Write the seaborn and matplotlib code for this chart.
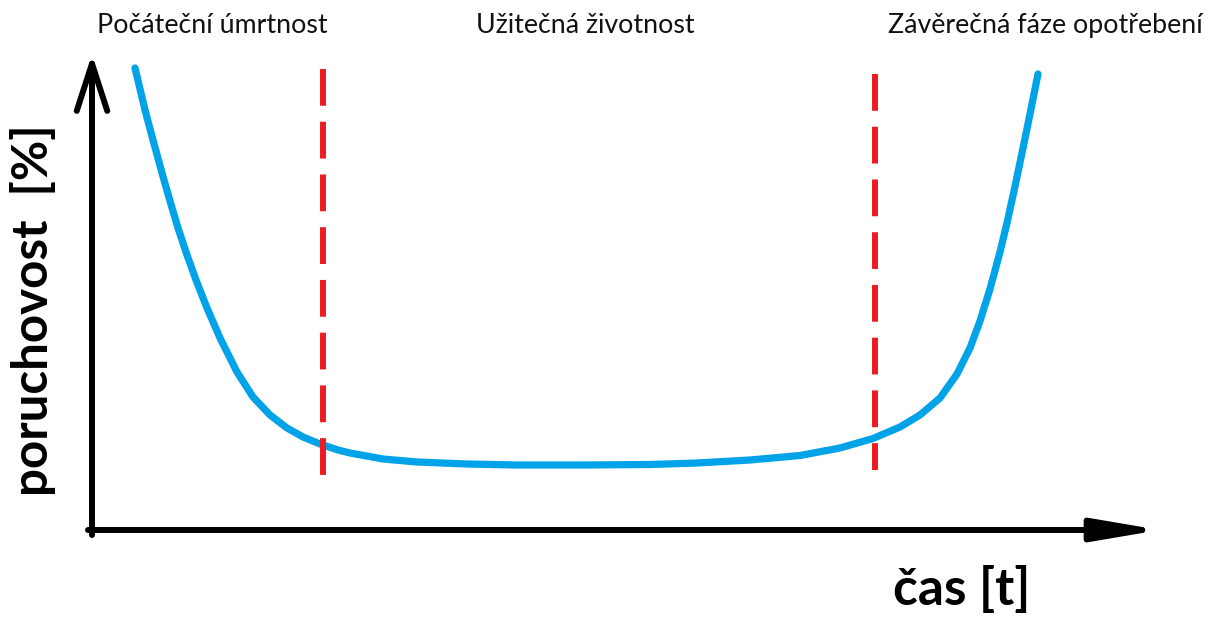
import matplotlib
matplotlib.use('Agg')
import matplotlib.pyplot as plt
import seaborn as sns
import pandas as pd

# bathtub curve (t from the axis corner, rate upwards)
t_vals = [43, 53, 61, 70, 78, 86, 95, 104, 115, 128, 145, 161, 178, 195, 211, 228,
          246, 258, 291, 325, 375, 425, 491, 558, 605, 658, 708, 748, 781, 808, 828,
          848, 865, 878, 888, 898, 908, 915, 922, 930, 938, 946]
rate_vals = [462, 420, 390, 357, 329, 302, 275, 250, 222, 192, 158, 133, 115, 102, 93, 86,
             80, 77, 71, 68, 66, 65, 65, 65.5, 67, 70, 74.5, 82, 91.5, 103, 115,
             132, 156, 182, 209, 241, 278, 307, 339, 377, 416, 456]

# phase boundaries (dashed red lines)
boundary_t = [231, 783]
boundary_top = [461, 456]
boundary_bottom = [48, 60]

phase_labels = ['Počáteční úmrtnost', 'Užitečná životnost', 'Závěrečná fáze opotřebení']
x_label = 'čas [t]'
y_label = 'poruchovost  [%]'

sns.set_theme(style='white')
plt.rcParams['font.family'] = ['Lato', 'DejaVu Sans']

fig = plt.figure(figsize=(12.05, 6.17), dpi=100)
ax = fig.add_axes([0, 0, 1, 1])
ax.set_xlim(-92, 1113)
ax.set_ylim(-87, 530)
ax.axis('off')

curve = pd.DataFrame({'t': t_vals, 'rate': rate_vals})
sns.lineplot(data=curve, x='t', y='rate', sort=False, estimator=None,
             color='#00a2e8', lw=5.2, solid_capstyle='round', solid_joinstyle='round', ax=ax)

for bt, top, bot in zip(boundary_t, boundary_top, boundary_bottom):
    sns.lineplot(x=[bt, bt], y=[top, bot], sort=False, estimator=None,
                 color='#ed1c24', lw=4.3, linestyle=(0, (6.16, 2.67)), ax=ax)

# axes drawn as arrows
ax.annotate('', xy=(0, 476), xytext=(0, -5),
            arrowprops=dict(arrowstyle='->,head_length=1.7,head_width=0.55', lw=4.3,
                            color='black', shrinkA=0, shrinkB=0, mutation_scale=20))
ax.annotate('', xy=(1068, 0), xytext=(-4, 0),
            arrowprops=dict(arrowstyle='-|>,head_length=2.0,head_width=0.34', lw=4.3,
                            color='black', shrinkA=0, shrinkB=0, mutation_scale=20))

ax.text(5, 497, phase_labels[0], fontsize=19.3, ha='left', va='baseline', color='#111111')
ax.text(493, 497, phase_labels[1], fontsize=19.3, ha='center', va='baseline', color='#111111')
ax.text(796, 497, phase_labels[2], fontsize=19.3, ha='left', va='baseline', color='#111111')

ax.text(801, -75, x_label, fontsize=37, fontweight='bold', ha='left', va='baseline',
        color='black')
ax.text(-44, 220, y_label, fontsize=35.5, fontweight='bold', rotation=90,
        rotation_mode='anchor', ha='center', va='baseline', color='black')

fig.savefig('out.png', dpi=100)
